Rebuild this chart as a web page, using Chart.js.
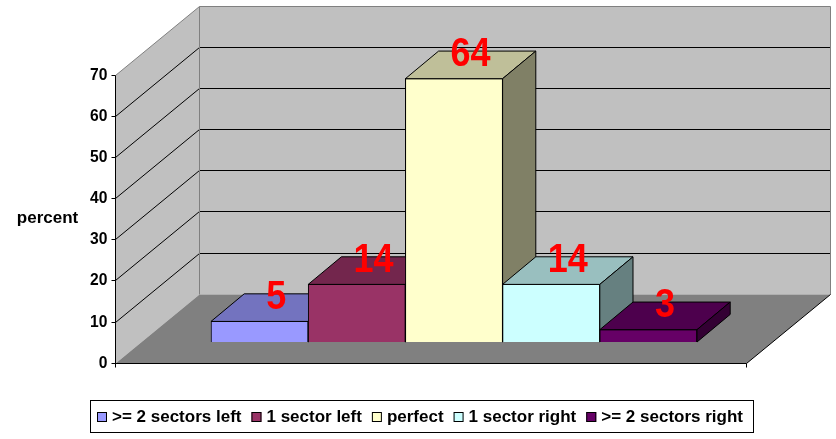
<!DOCTYPE html>
<html>
<head>
<meta charset="utf-8">
<script src="https://cdn.jsdelivr.net/npm/chart.js@4/dist/chart.umd.min.js"></script>
<style>
  html, body { margin: 0; padding: 0; background: #fff; }
  #chart { display: block; }
</style>
</head>
<body>
<canvas id="chart" width="836" height="439"></canvas>
<script>
// data
var categories = ['>= 2 sectors left', '1 sector left', 'perfect', '1 sector right', '>= 2 sectors right'];
var percentValues = [5, 14, 64, 14, 3];
var yTicks = [0, 10, 20, 30, 40, 50, 60, 70];
var axisTitle = 'percent';

// styles
var barColors = ['#9999FF', '#993366', '#FFFFCC', '#CCFFFF', '#660066'];
var FONT = '"Liberation Sans", Arial, sans-serif';
var DEPTH = {x: 83, y: -69};       // whole floor depth
var FRONT = {x: -23.5, y: 20.7};   // bar front plane -> front plane of the box
var BAR_D = {x: 33.2, y: -27.6};   // depth of one bar
var MARGIN = 72.5;                 // floor margin left/right of the bars

function shade(hex, f) {
	var n = parseInt(hex.slice(1), 16);
	var r = Math.round(((n >> 16) & 255) * f), g = Math.round(((n >> 8) & 255) * f), b = Math.round((n & 255) * f);
	return 'rgb(' + r + ',' + g + ',' + b + ')';
}

function poly(ctx, pts, fill, stroke) {
	ctx.beginPath();
	ctx.moveTo(pts[0][0], pts[0][1]);
	for (var i = 1; i < pts.length; i++) ctx.lineTo(pts[i][0], pts[i][1]);
	ctx.closePath();
	if (fill) { ctx.fillStyle = fill; ctx.fill(); }
	if (stroke) { ctx.strokeStyle = stroke; ctx.lineWidth = 1; ctx.stroke(); }
}

function line(ctx, x1, y1, x2, y2, color) {
	ctx.beginPath();
	ctx.moveTo(x1, y1);
	ctx.lineTo(x2, y2);
	ctx.strokeStyle = color;
	ctx.lineWidth = 1;
	ctx.stroke();
}

// text squeezed a little sideways, like the original rendering
function narrowText(ctx, txt, x, y, sx) {
	ctx.save();
	ctx.translate(x, y);
	ctx.scale(sx, 1);
	ctx.fillText(txt, 0, 0);
	ctx.restore();
}

function px(v) { return Math.round(v) + 0.5; }

// walls, floor, grid and the value axis
var boxPlugin = {
	id: 'box3d',
	beforeDatasetsDraw: function(chart) {
		var ctx = chart.ctx, ca = chart.chartArea, ys = chart.scales.y;
		var max = ys.max;
		var fl = px(ca.left + FRONT.x - MARGIN), fr = px(ca.right + FRONT.x + MARGIN);
		var bl = px(fl + DEPTH.x), br = px(fr + DEPTH.x);
		var fy = function(v) { return px(ys.getPixelForValue(v) + FRONT.y); };
		var by = function(v) { return px(ys.getPixelForValue(v) + FRONT.y + DEPTH.y); };
		ctx.save();
		poly(ctx, [[fl, fy(0)], [fl, fy(max)], [bl, by(max)], [bl, by(0)]], '#C0C0C0');
		poly(ctx, [[bl, by(0)], [bl, by(max)], [br, by(max)], [br, by(0)]], '#C0C0C0');
		poly(ctx, [[fl, fy(0)], [fr, fy(0)], [br, by(0)], [bl, by(0)]], '#808080');
		yTicks.forEach(function(v) {
			if (v <= 0 || v >= max) return;
			line(ctx, bl, by(v), br, by(v), '#000');
			line(ctx, fl, fy(v), bl, by(v), '#000');
		});
		// edges
		line(ctx, fl, fy(max), bl, by(max), '#808080');
		line(ctx, bl, by(max), br, by(max), '#808080');
		line(ctx, br, by(max), br, by(0), '#808080');
		line(ctx, bl, by(max), bl, by(0), '#808080');
		line(ctx, fr, fy(0), br, by(0), '#000');
		// axis
		line(ctx, fl, fy(max), fl, fy(0) + 4, '#000');
		line(ctx, fl, fy(0), fr, fy(0), '#000');
		line(ctx, fr, fy(0), fr, fy(0) + 4, '#000');
		ctx.fillStyle = '#000';
		ctx.font = 'bold 17px ' + FONT;
		ctx.textAlign = 'right';
		ctx.textBaseline = 'middle';
		yTicks.forEach(function(v) {
			line(ctx, fl - 4, fy(v), fl, fy(v), '#000');
			narrowText(ctx, String(v), fl - 8, fy(v), 0.92);
		});
		ctx.textAlign = 'center';
		ctx.fillText(axisTitle, fl - 68, fy(max / 2) - 1);
		ctx.restore();
	},
	afterDatasetsDraw: function(chart) {
		var ctx = chart.ctx;
		ctx.save();
		var bars = [];
		chart.data.datasets.forEach(function(ds, i) {
			var el = chart.getDatasetMeta(i).data[0];
			var p = el.getProps(['x', 'y', 'base', 'width'], true);
			var l = p.x - p.width / 2, r = p.x + p.width / 2;
			el.draw(ctx);
			poly(ctx, [[l, p.y], [r, p.y], [r + BAR_D.x, p.y + BAR_D.y], [l + BAR_D.x, p.y + BAR_D.y]], shade(ds.backgroundColor, 0.75), '#000');
			poly(ctx, [[r, p.y], [r + BAR_D.x, p.y + BAR_D.y], [r + BAR_D.x, p.base + BAR_D.y], [r, p.base]], shade(ds.backgroundColor, 0.5), '#000');
			bars.push({x: p.x + BAR_D.x / 2, y: p.y + BAR_D.y / 2 + 1, v: ds.data[0]});
		});
		ctx.fillStyle = '#FF0000';
		ctx.font = 'bold 40px ' + FONT;
		ctx.textAlign = 'center';
		ctx.textBaseline = 'alphabetic';
		bars.forEach(function(b) { narrowText(ctx, String(b.v), b.x, b.y, 0.9); });
		ctx.restore();
	},
	afterDraw: function(chart) {
		var ctx = chart.ctx;
		ctx.save();
		ctx.font = 'bold 17px ' + FONT;
		var widths = categories.map(function(c) { return ctx.measureText(c).width; });
		var total = widths.reduce(function(a, w) { return a + w + 15; }, 0) + 10 * (categories.length - 1);
		var x = Math.round(420 - total / 2), cy = 417;
		var startX = x;
		ctx.textAlign = 'left';
		ctx.textBaseline = 'middle';
		chart.data.datasets.forEach(function(ds, i) {
			ctx.fillStyle = ds.backgroundColor;
			ctx.fillRect(x, cy - 5, 10, 10);
			ctx.strokeStyle = '#000';
			ctx.lineWidth = 1;
			ctx.strokeRect(x + 0.5, cy - 4.5, 9, 9);
			ctx.fillStyle = '#000';
			ctx.fillText(ds.label, x + 15, cy);
			x += 15 + widths[i] + 10;
		});
		var endX = x - 10;
		ctx.strokeStyle = '#000';
		ctx.strokeRect(px(startX - 7), 400.5, Math.round(endX + 10 - (startX - 7)), 32);
		ctx.restore();
	}
};

var datasets = categories.map(function(c, i) {
	return {
		label: c,
		data: [percentValues[i]],
		backgroundColor: barColors[i],
		borderColor: '#000',
		borderWidth: 1,
		categoryPercentage: 1,
		barPercentage: 1
	};
});

new Chart(document.getElementById('chart'), {
	type: 'bar',
	data: { labels: [''], datasets: datasets },
	options: {
		responsive: false,
		animation: false,
		layout: { padding: { left: 211, right: 139, top: 54, bottom: 97 } },
		plugins: { legend: { display: false }, tooltip: { enabled: false } },
		scales: {
			x: { display: false },
			y: { display: false, min: 0, max: 70 }
		}
	},
	plugins: [boxPlugin]
});
</script>
</body>
</html>
